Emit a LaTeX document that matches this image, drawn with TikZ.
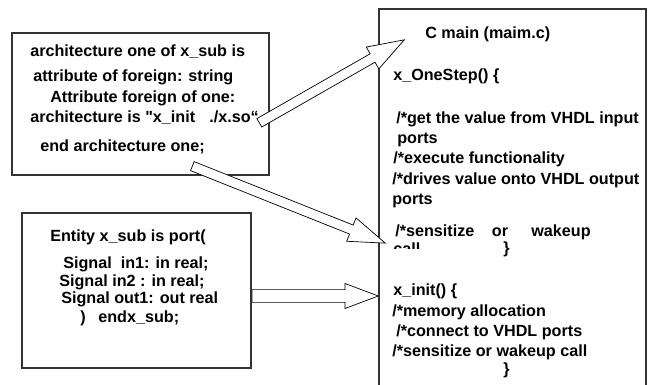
\documentclass[tikz,border=0pt]{standalone}
\usepackage{fontspec}
\setmainfont{Liberation Sans}
\usetikzlibrary{shapes.arrows, calc, fit}

\newcommand{\codefont}{\fontsize{11.5}{13}\selectfont\bfseries}

\tikzset{
  codebox/.style={draw=black!80, line width=0.9pt, inner sep=0pt},
  codeline/.style={anchor=base west, inner sep=0pt, font=\codefont},
  hollowarrow/.style={single arrow, draw=black, line width=0.5pt, fill=white,
                      inner xsep=0pt, inner ysep=3.2pt, minimum width=0pt,
                      single arrow head extend=5.5pt, single arrow tip angle=38}
}

% block arrow from tail (#2) to tip (#3)
\newcommand{\blockarrow}[3][]{%
  \path let \p1=($(#3)-(#2)$), \n1={atan2(\y1,\x1)}, \n2={veclen(\x1,\y1)} in
    node[hollowarrow, #1, minimum height=\n2, rotate=\n1, anchor=tail] at (#2) {};}

\begin{document}
\begin{tikzpicture}[x=0.025cm, y=-0.025cm]
\useasboundingbox (0,0) rectangle (649,385);

% Boxes
\node[codebox, fit={(12,33) (269,175)}]  (archbox) {};
\node[codebox, fit={(22,213) (251,368)}] (entbox)  {};
\node[codebox, fit={(379,9) (646,400)}]  (cbox)    {};

% Architecture
\node[codeline] (arch1) at (30,57)  {architecture one of x\_sub is};
\node[codeline] (arch2) at (33,82)  {attribute of foreign: string};
\node[codeline] (arch3) at (50,103) {Attribute foreign of one:};
\node[codeline] (arch4) at (30,123) {architecture is \textquotedbl x\_init\hspace{10pt}./x.so“};
\node[codeline] (arch5) at (40,152) {end architecture one;};

% Entity
\node[codeline] (ent1) at (50,242) {Entity x\_sub is port(};
\node[codeline] (ent2) at (63,269) {Signal\ \ in1: in real;};
\node[codeline] (ent3) at (59,287) {Signal in2 : in real;};
\node[codeline] (ent4) at (61,304) {Signal out1: out real};
\node[codeline] (ent5) at (80,322) {)\hspace{9pt}endx\_sub;};

% C main
\node[codeline] (c1)  at (425,39)  {C main (maim.c)};
\node[codeline] (c2)  at (393,81)  {x\_OneStep() \{};
\node[codeline] (c3)  at (396,124) {/*get the value from VHDL input};
\node[codeline] (c4)  at (397,144) {ports};
\node[codeline] (c5)  at (393,164) {/*execute functionality};
\node[codeline] (c6)  at (392,185) {/*drives value onto VHDL output};
\node[codeline] (c7)  at (392,205) {ports};
\node[codeline] (c8)  at (395,237) {/*sensitize\hspace{12.5pt}or\hspace{16.5pt}wakeup};
\begin{scope}
  \clip (385,238) rectangle (480,249);
  \node[codeline] (c9) at (393,255) {call};
\end{scope}
\node[codeline] (c10) at (503,254) {\}};
\node[codeline] (c11) at (393,295) {x\_init() \{};
\node[codeline] (c12) at (392,316) {/*memory allocation};
\node[codeline] (c13) at (396,336) {/*connect to VHDL ports};
\node[codeline] (c14) at (392,356) {/*sensitize or wakeup call};
\node[codeline] (c15) at (503,374) {\}};

% Arrows
\coordinate (sotail)   at (259,123);
\coordinate (sotip)    at (404,40);
\coordinate (endtail)  at (192,166);
\coordinate (endtip)   at (385,243);
\coordinate (porttip)  at (378,296);
\coordinate (porttail) at (entbox.east |- porttip);

\blockarrow{sotail}{sotip}
\blockarrow{endtail}{endtip}
\blockarrow[inner ysep=4.3pt, single arrow head extend=4.3pt, single arrow tip angle=41]{porttail}{porttip}

\end{tikzpicture}
\end{document}
